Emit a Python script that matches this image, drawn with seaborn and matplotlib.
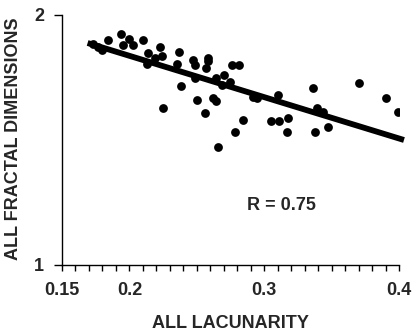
import numpy as np
import pandas as pd
import matplotlib
matplotlib.use("Agg")
import matplotlib.pyplot as plt
import seaborn as sns
from matplotlib.ticker import MultipleLocator, FixedLocator, FixedFormatter

sns.set_style("ticks")
plt.rcParams['font.family'] = ['Liberation Sans', 'DejaVu Sans']
plt.rcParams['font.weight'] = 'bold'

lacunarity = [0.173, 0.177, 0.180, 0.184, 0.194, 0.195, 0.200, 0.203, 0.210, 0.214,
              0.223, 0.213, 0.219, 0.224, 0.237, 0.235, 0.247, 0.249, 0.258, 0.258,
              0.257, 0.276, 0.281, 0.249, 0.264, 0.270, 0.269, 0.275, 0.238, 0.225,
              0.250, 0.262, 0.264, 0.256, 0.284, 0.278, 0.266, 0.292, 0.295, 0.310,
              0.305, 0.311, 0.318, 0.317, 0.336, 0.339, 0.344, 0.370, 0.390, 0.399,
              0.338, 0.347]
fractal_dim = [1.884, 1.872, 1.860, 1.900, 1.924, 1.880, 1.904, 1.880, 1.900, 1.848,
               1.872, 1.804, 1.828, 1.836, 1.852, 1.804, 1.820, 1.800, 1.828, 1.816,
               1.788, 1.800, 1.800, 1.748, 1.748, 1.760, 1.720, 1.732, 1.716, 1.628,
               1.660, 1.668, 1.656, 1.608, 1.580, 1.532, 1.472, 1.672, 1.668, 1.680,
               1.576, 1.576, 1.588, 1.532, 1.708, 1.628, 1.612, 1.728, 1.668, 1.612,
               1.532, 1.552]

fit_x = [0.169, 0.4037]
fit_y = [1.888, 1.500]

x_tick_values = [0.15, 0.2, 0.3, 0.4]
x_tick_labels = ["0.15", "0.2", "0.3", "0.4"]
y_tick_values = [1, 2]
y_tick_labels = ["1", "2"]

df = pd.DataFrame({"lac": lacunarity, "fd": fractal_dim})
fit_df = pd.DataFrame({"x": fit_x, "y": fit_y})

fig = plt.figure(figsize=(4.12, 3.31), dpi=100)
ax = fig.add_axes([0.1505, 0.1994, 0.8179, 0.7553])

sns.scatterplot(data=df, x="lac", y="fd", ax=ax, color="black", s=40,
                edgecolor="black", linewidth=0, legend=False, zorder=3)
sns.lineplot(data=fit_df, x="x", y="y", ax=ax, color="black", linewidth=4.2,
             solid_capstyle="butt", zorder=4)
for l in ax.get_lines():
    l.set_clip_on(False)

ax.set_xlim(0.15, 0.4)
ax.set_ylim(1, 2)

ax.xaxis.set_major_locator(FixedLocator(x_tick_values))
ax.xaxis.set_major_formatter(FixedFormatter(x_tick_labels))
ax.xaxis.set_minor_locator(MultipleLocator(0.01))
ax.yaxis.set_major_locator(FixedLocator(y_tick_values))
ax.yaxis.set_major_formatter(FixedFormatter(y_tick_labels))

ax.tick_params(axis='both', which='both', direction='out', length=4, width=1,
               color='black', labelsize=13, pad=8)
ax.tick_params(axis='y', which='major', length=6, pad=7)
for lab in ax.get_xticklabels() + ax.get_yticklabels():
    lab.set_fontweight('bold')

sns.despine(ax=ax)
for sp in ["left", "bottom"]:
    ax.spines[sp].set_linewidth(1)
    ax.spines[sp].set_color("black")

ax.set_xlabel("ALL LACUNARITY", fontsize=13, fontweight='bold', labelpad=12)
ax.set_ylabel("ALL FRACTAL DIMENSIONS", fontsize=13, fontweight='bold')
ax.yaxis.set_label_coords(-0.118, 0.506)

ax.text(0.287, 1.237, "R = 0.75", fontsize=13, fontweight='bold',
        ha='left', va='center')

fig.savefig("out.png", dpi=100)
